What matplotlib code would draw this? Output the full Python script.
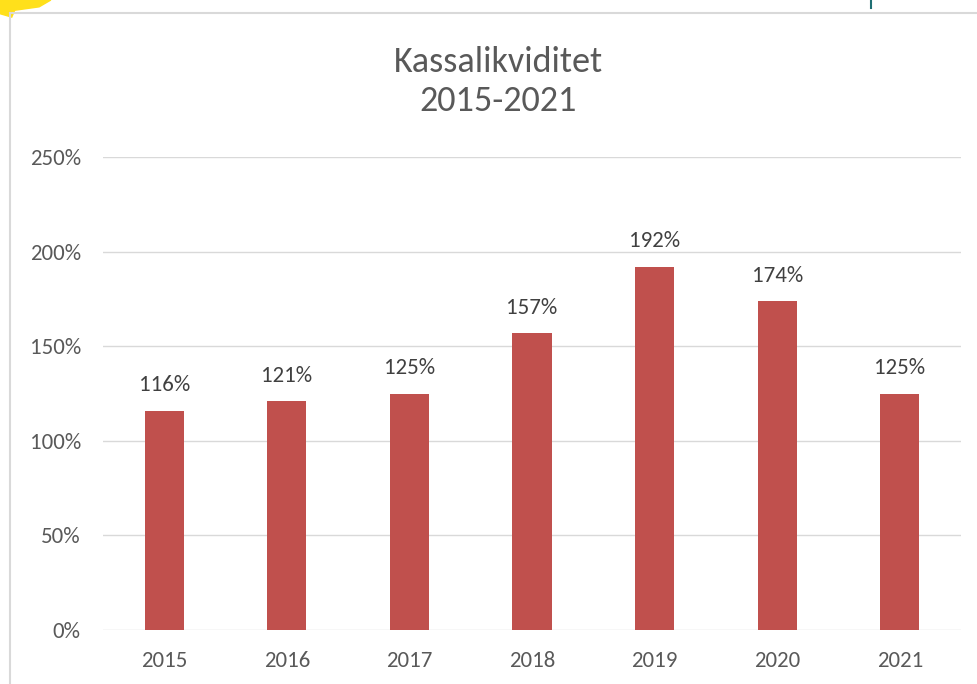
import matplotlib.pyplot as plt
from matplotlib.patches import Polygon
from matplotlib.lines import Line2D

years = ['2015', '2016', '2017', '2018', '2019', '2020', '2021']
values = [116, 121, 125, 157, 192, 174, 125]
yticks = [0, 50, 100, 150, 200, 250]

plt.rcParams['font.family'] = ['Calibri', 'Carlito', 'Liberation Sans', 'DejaVu Sans']
textcol = '#595959'

fig = plt.figure(figsize=(9.78, 6.84), dpi=100)
ax = fig.add_axes([0.1053, 0.0789, 0.8773, 0.6916])

x = range(len(years))
ax.bar(x, values, width=0.32, color='#C0504D', zorder=3)
for xi, v in zip(x, values):
    ax.annotate(f'{v}%', (xi, v), xytext=(0, 11), textcoords='offset points',
                ha='center', va='bottom', fontsize=16.5, color='#404040')

ax.set_xlim(-0.5, len(years) - 0.5)
ax.set_ylim(0, 250)
ax.set_yticks(yticks)
ax.set_yticklabels([f'{t}%' for t in yticks])
ax.set_xticks(list(x))
ax.set_xticklabels(years)
ax.grid(axis='y', color='#D9D9D9', linewidth=1, zorder=0)
for s in ax.spines.values():
    s.set_visible(False)
ax.tick_params(length=0, labelsize=16.5, colors=textcol)
ax.tick_params(axis='y', pad=16)
ax.tick_params(axis='x', pad=15)

fig.text(0.5095, 0.881, 'Kassalikviditet\n2015-2021', ha='center', va='center',
         fontsize=26, color=textcol, linespacing=1.25)

# chart frame border
fig.add_artist(Line2D([0.0107, 0.0107], [0, 0.981], color='#D9D9D9', lw=1.5))
fig.add_artist(Line2D([0.0107, 1.0], [0.981, 0.981], color='#D9D9D9', lw=1.5))
# decorations at the top edge
fig.add_artist(Polygon([[0, 1], [0.052, 1], [0.04, 0.99], [0.015, 0.985], [0.012, 0.975], [0.0, 0.98]],
                       closed=True, color='#FFE01B', transform=fig.transFigure))
fig.add_artist(Line2D([0.8906, 0.8906], [0.988, 1.0], color='#1F6F73', lw=1.5))

fig.savefig('out.png', dpi=100)
